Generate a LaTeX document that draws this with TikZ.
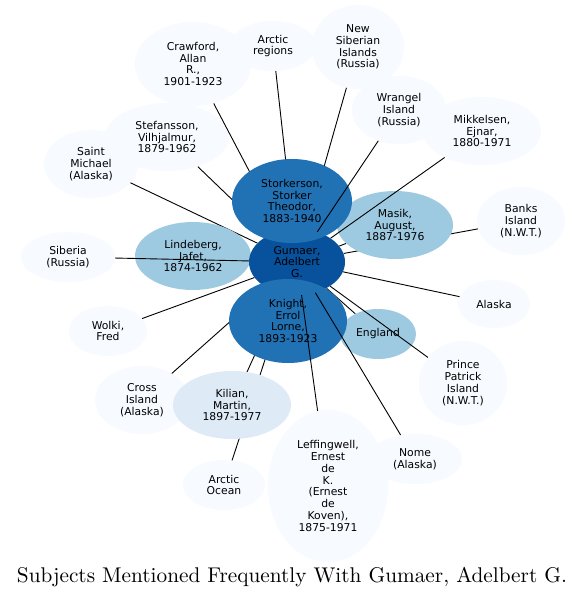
\documentclass[tikz,border=0pt]{standalone}
\usepackage{fontspec}
\newfontfamily\djv{DejaVu Sans}
\usetikzlibrary{shapes.geometric}
\definecolor{cA}{HTML}{F7FBFF}
\definecolor{cB}{HTML}{DEEBF7}
\definecolor{cC}{HTML}{9ECAE1}
\definecolor{cD}{HTML}{2171B5}
\definecolor{cE}{HTML}{08519C}
\pgfdeclarelayer{lone}
\pgfdeclarelayer{ltwo}
\pgfdeclarelayer{lthree}
\pgfsetlayers{lone,ltwo,lthree,main}
\tikzset{
  subj/.style={ellipse, inner sep=0pt, align=center, font=\djv\fontsize{10.8}{11.8}\selectfont, text=black},
  edge/.style={draw=black, line width=0.9pt},
}
\newcommand{\nd}[6]{\node[subj, fill=#1, minimum width=#4pt, minimum height=#5pt] (#2) at (#3) {#6};}
\begin{document}
\begin{tikzpicture}[x=1pt,y=-1pt]
\useasboundingbox (0,0) rectangle (585,598);
\begin{pgfonlayer}{lone}
\fill[white] (0,0) rectangle (585,598);
\nd{cA}{cr}{193,64}{116}{84}{Crawford,\\Allan\\R.,\\1901-1923}
\nd{cA}{ar}{273,46}{86}{50}{Arctic\\regions}
\nd{cA}{ns}{358,47}{92}{84}{New\\Siberian\\Islands\\(Russia)}
\nd{cA}{wr}{399,110}{94}{68}{Wrangel\\Island\\(Russia)}
\nd{cA}{mk}{482,131}{118}{68}{Mikkelsen,\\Ejnar,\\1880-1971}
\nd{cA}{bk}{521,221}{88}{68}{Banks\\Island\\(N.W.T.)}
\nd{cA}{al}{494,304}{72}{48}{Alaska}
\nd{cA}{pp}{463,383}{88}{84}{Prince\\Patrick\\Island\\(N.W.T.)}
\nd{cA}{nm}{415,459}{94}{50}{Nome\\(Alaska)}
\nd{cA}{lf}{328,486}{120}{152}{Leffingwell,\\Ernest\\de\\K.\\(Ernest\\de\\Koven),\\1875-1971}
\nd{cA}{ci}{142,400}{94}{68}{Cross\\Island\\(Alaska)}
\nd{cA}{ao}{224,485}{82}{50}{Arctic\\Ocean}
\nd{cA}{wo}{108,331}{78}{50}{Wolki,\\Fred}
\nd{cA}{si}{68,257}{94}{50}{Siberia\\(Russia)}
\nd{cA}{sm}{91,164}{94}{68}{Saint\\Michael\\(Alaska)}
\nd{cA}{sf}{167,137}{124}{68}{Stefansson,\\Vilhjalmur,\\1879-1962}
\end{pgfonlayer}
\begin{pgfonlayer}{lthree}
\nd{cC}{li}{193,256}{116}{68}{Lindeberg,\\Jafet,\\1874-1962}
\nd{cC}{ms}{395,225}{116}{68}{Masik,\\August,\\1887-1976}
\nd{cC}{en}{378,334}{76}{50}{England}
\nd{cB}{ki}{232,405}{118}{68}{Kilian,\\Martin,\\1897-1977}
\nd{cE}{g}{297,262}{96}{66}{Gumaer,\\Adelbert\\G.}
\nd{cD}{st}{292,201}{120}{84}{Storkerson,\\Storker\\Theodor,\\1883-1940}
\nd{cD}{kn}{288,321}{118}{84}{Knight,\\Errol\\Lorne,\\1893-1923}
\end{pgfonlayer}
\begin{pgfonlayer}{ltwo}
\foreach \t in {cr,sf,ar,ns,sm,wo,ci,ki,ao,ms,bk,al,en}{
  \draw[edge] (g) -- (\t);
}
\end{pgfonlayer}
\foreach \t in {si,wr,mk,pp,nm,lf}{
  \draw[edge] (g) -- (\t);
}
\node[anchor=base, inner sep=0pt] (title) at (292,582) {\resizebox{550pt}{!}{Subjects Mentioned Frequently With Gumaer, Adelbert G.}};
\end{tikzpicture}
\end{document}
